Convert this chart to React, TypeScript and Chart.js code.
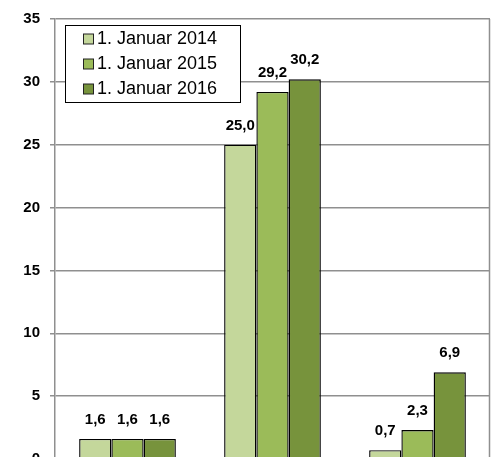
import React, { useEffect, useRef } from "react";
import { Chart, registerables } from "chart.js";

Chart.register(...registerables);

const categories = ["Gruppe 1", "Gruppe 2", "Gruppe 3"];
const seriesNames = ["1. Januar 2014", "1. Januar 2015", "1. Januar 2016"];
const values2014 = [1.6, 25.0, 0.7];
const values2015 = [1.6, 29.2, 2.3];
const values2016 = [1.6, 30.2, 6.9];
const seriesColors = ["#c4d79b", "#9bbb59", "#77933c"];
const yTicks = [0, 5, 10, 15, 20, 25, 30, 35];

const FONT = '"Liberation Sans", Arial, sans-serif';
const GRID = "#8f8f8f";

const fmt = (v: number) => v.toFixed(1).replace(".", ",");

const labelPlugin = {
  id: "barLabels",
  afterDatasetsDraw(chart: any) {
    const ctx = chart.ctx;
    ctx.save();
    ctx.font = `bold 15px ${FONT}`;
    ctx.fillStyle = "#000";
    ctx.textAlign = "center";
    ctx.textBaseline = "middle";
    chart.data.datasets.forEach((ds: any, di: number) => {
      const meta = chart.getDatasetMeta(di);
      meta.data.forEach((bar: any, i: number) => {
        ctx.fillText(fmt(ds.data[i]), bar.x, bar.y - 19);
      });
    });
    ctx.restore();
  },
};

const framePlugin = {
  id: "frameAndLegend",
  afterDraw(chart: any) {
    const ctx = chart.ctx;
    const a = chart.chartArea;
    ctx.save();
    ctx.strokeStyle = GRID;
    ctx.lineWidth = 1.5;
    ctx.beginPath();
    ctx.moveTo(Math.round(a.right) - 0.5, a.top);
    ctx.lineTo(Math.round(a.right) - 0.5, a.bottom);
    ctx.stroke();

    // legend
    const lx = 65.5, ly = 25.5, lw = 175, lh = 77;
    ctx.lineWidth = 1;
    ctx.fillStyle = "#fff";
    ctx.fillRect(lx, ly, lw, lh);
    ctx.strokeStyle = "#000";
    ctx.strokeRect(lx, ly, lw, lh);
    ctx.font = `18px ${FONT}`;
    ctx.textAlign = "left";
    ctx.textBaseline = "middle";
    chart.data.datasets.forEach((ds: any, i: number) => {
      const cy = 39 + i * 25;
      ctx.fillStyle = ds.backgroundColor;
      ctx.fillRect(83.5, cy - 5, 10, 10);
      ctx.strokeStyle = "#222";
      ctx.strokeRect(83.5, cy - 5, 10, 10);
      ctx.fillStyle = "#000";
      ctx.fillText(ds.label, 97, cy);
    });
    ctx.restore();
  },
};

export default function App() {
  const ref = useRef<HTMLCanvasElement | null>(null);
  useEffect(() => {
    if (!ref.current) return;
    const datasets = [values2014, values2015, values2016].map((d, i) => ({
      label: seriesNames[i],
      data: d,
      backgroundColor: seriesColors[i],
      borderColor: "#000",
      borderWidth: 1.4,
      categoryPercentage: 0.667,
      barPercentage: 1.0,
    }));
    const chart = new Chart(ref.current, {
      type: "bar",
      data: { labels: categories, datasets },
      options: {
        responsive: false,
        animation: false,
        layout: { padding: { left: 0, right: 2, top: 15, bottom: 41 } },
        plugins: {
          legend: { display: false },
          tooltip: { enabled: false },
        },
        scales: {
          x: { display: false },
          y: {
            min: 0,
            max: 35,
            afterBuildTicks: (s: any) => {
              s.ticks = yTicks.map((v) => ({ value: v }));
            },
            afterFit: (s: any) => {
              s.width = 55;
            },
            border: { color: GRID, width: 1.5 },
            grid: { color: GRID, lineWidth: 1.5, tickLength: 5, drawTicks: true },
            ticks: {
              padding: 10,
              color: "#000",
              font: { family: FONT, size: 15, weight: "bold" },
              callback: (v: any) => String(v),
            },
          },
        },
      },
      plugins: [labelPlugin, framePlugin],
    });
    return () => chart.destroy();
  }, []);
  return (
    <div
      style={{
        position: "fixed",
        left: 0,
        top: 0,
        width: 492,
        height: 457,
        overflow: "hidden",
        background: "#fff",
      }}
    >
      <canvas ref={ref} width={492} height={500} style={{ display: "block" }} />
    </div>
  );
}
